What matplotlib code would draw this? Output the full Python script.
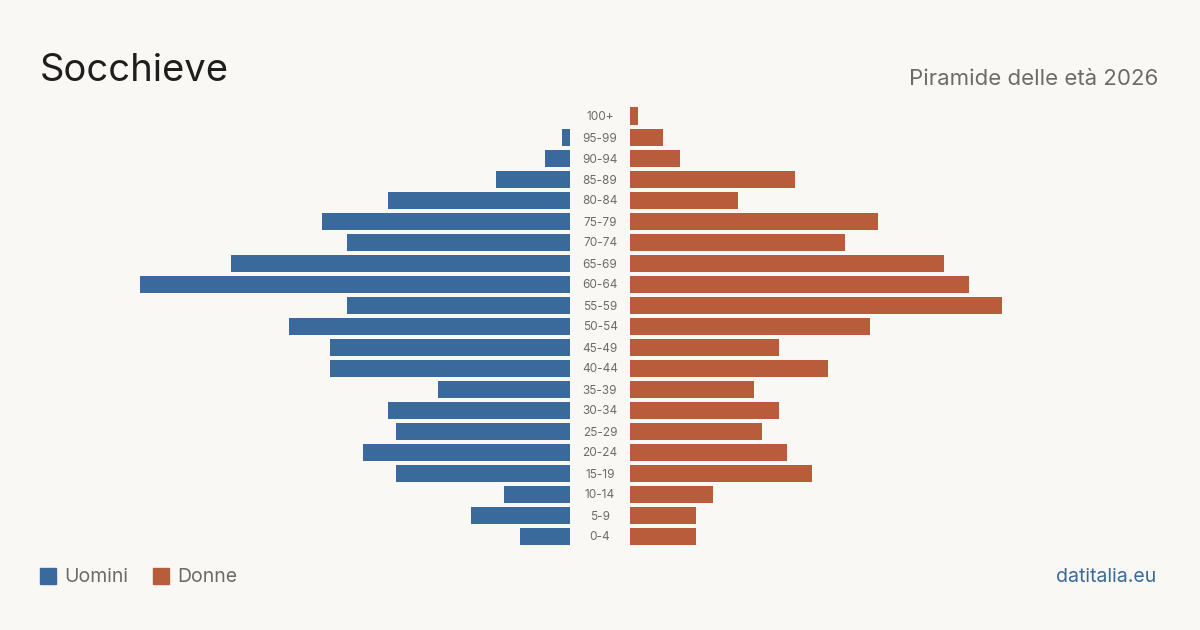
import matplotlib.pyplot as plt

plt.rcParams['font.family'] = ['Inter', 'DejaVu Sans']

# ===== データ =====
AGE_GROUPS = ['0-4', '5-9', '10-14', '15-19', '20-24', '25-29', '30-34', '35-39',
              '40-44', '45-49', '50-54', '55-59', '60-64', '65-69', '70-74', '75-79',
              '80-84', '85-89', '90-94', '95-99', '100+']
MEN = [6, 12, 8, 21, 25, 21, 22, 16, 29, 29, 34, 27, 52, 41, 27, 30, 22, 9, 3, 1, 0]
WOMEN = [8, 8, 10, 22, 19, 16, 18, 15, 24, 18, 29, 45, 41, 38, 26, 30, 13, 20, 6, 4, 1]

# ===== 設定 =====
BG = '#f9f8f4'
BLUE = '#3a6a9c'
ORANGE = '#b95c3c'
GRAY = '#6b6b6b'
PX_PER_UNIT = 8.27      # 1人あたりのピクセル
ROW_PX = 21             # 行の間隔
HALF_GAP = 30 / PX_PER_UNIT
BAR_H = 17 / ROW_PX

fig = plt.figure(figsize=(12, 6.3), dpi=100, facecolor=BG)
ax = fig.add_axes([0, 0, 1, 1])
ax.set_facecolor(BG)

half_w = 600 / PX_PER_UNIT
ax.set_xlim(-half_w, half_w)
y_bottom = -94 / ROW_PX
ax.set_ylim(y_bottom, y_bottom + 630 / ROW_PX)
ax.axis('off')

ys = list(range(len(AGE_GROUPS)))
ax.barh(ys, MEN, left=[-HALF_GAP - m for m in MEN], height=BAR_H, color=BLUE)
ax.barh(ys, WOMEN, left=HALF_GAP, height=BAR_H, color=ORANGE)

for y, label in zip(ys, AGE_GROUPS):
    ax.text(0, y - 1.5 / ROW_PX, label, ha='center', va='center', fontsize=8.5, color=GRAY)

# タイトル
fig.text(40 / 1200, 1 - 81 / 630, 'Socchieve', fontsize=27.5, color='#1e1e1e',
         ha='left', va='baseline')
fig.text(1158 / 1200, 1 - 85 / 630, 'Piramide delle età 2026', fontsize=16,
         color=GRAY, ha='right', va='baseline')

# 凡例
for x0, col, name in [(40, BLUE, 'Uomini'), (153, ORANGE, 'Donne')]:
    fig.patches.append(plt.Rectangle((x0 / 1200, 1 - 584 / 630), 16 / 1200, 16 / 630,
                                     transform=fig.transFigure, color=col))
    fig.text((x0 + 24) / 1200, 1 - 577 / 630, name, fontsize=14, color=GRAY,
             ha='left', va='center')

fig.text(1156 / 1200, 1 - 577 / 630, 'datitalia.eu', fontsize=14, color=BLUE,
         ha='right', va='center')

plt.savefig('out.png', dpi=100, facecolor=BG)
